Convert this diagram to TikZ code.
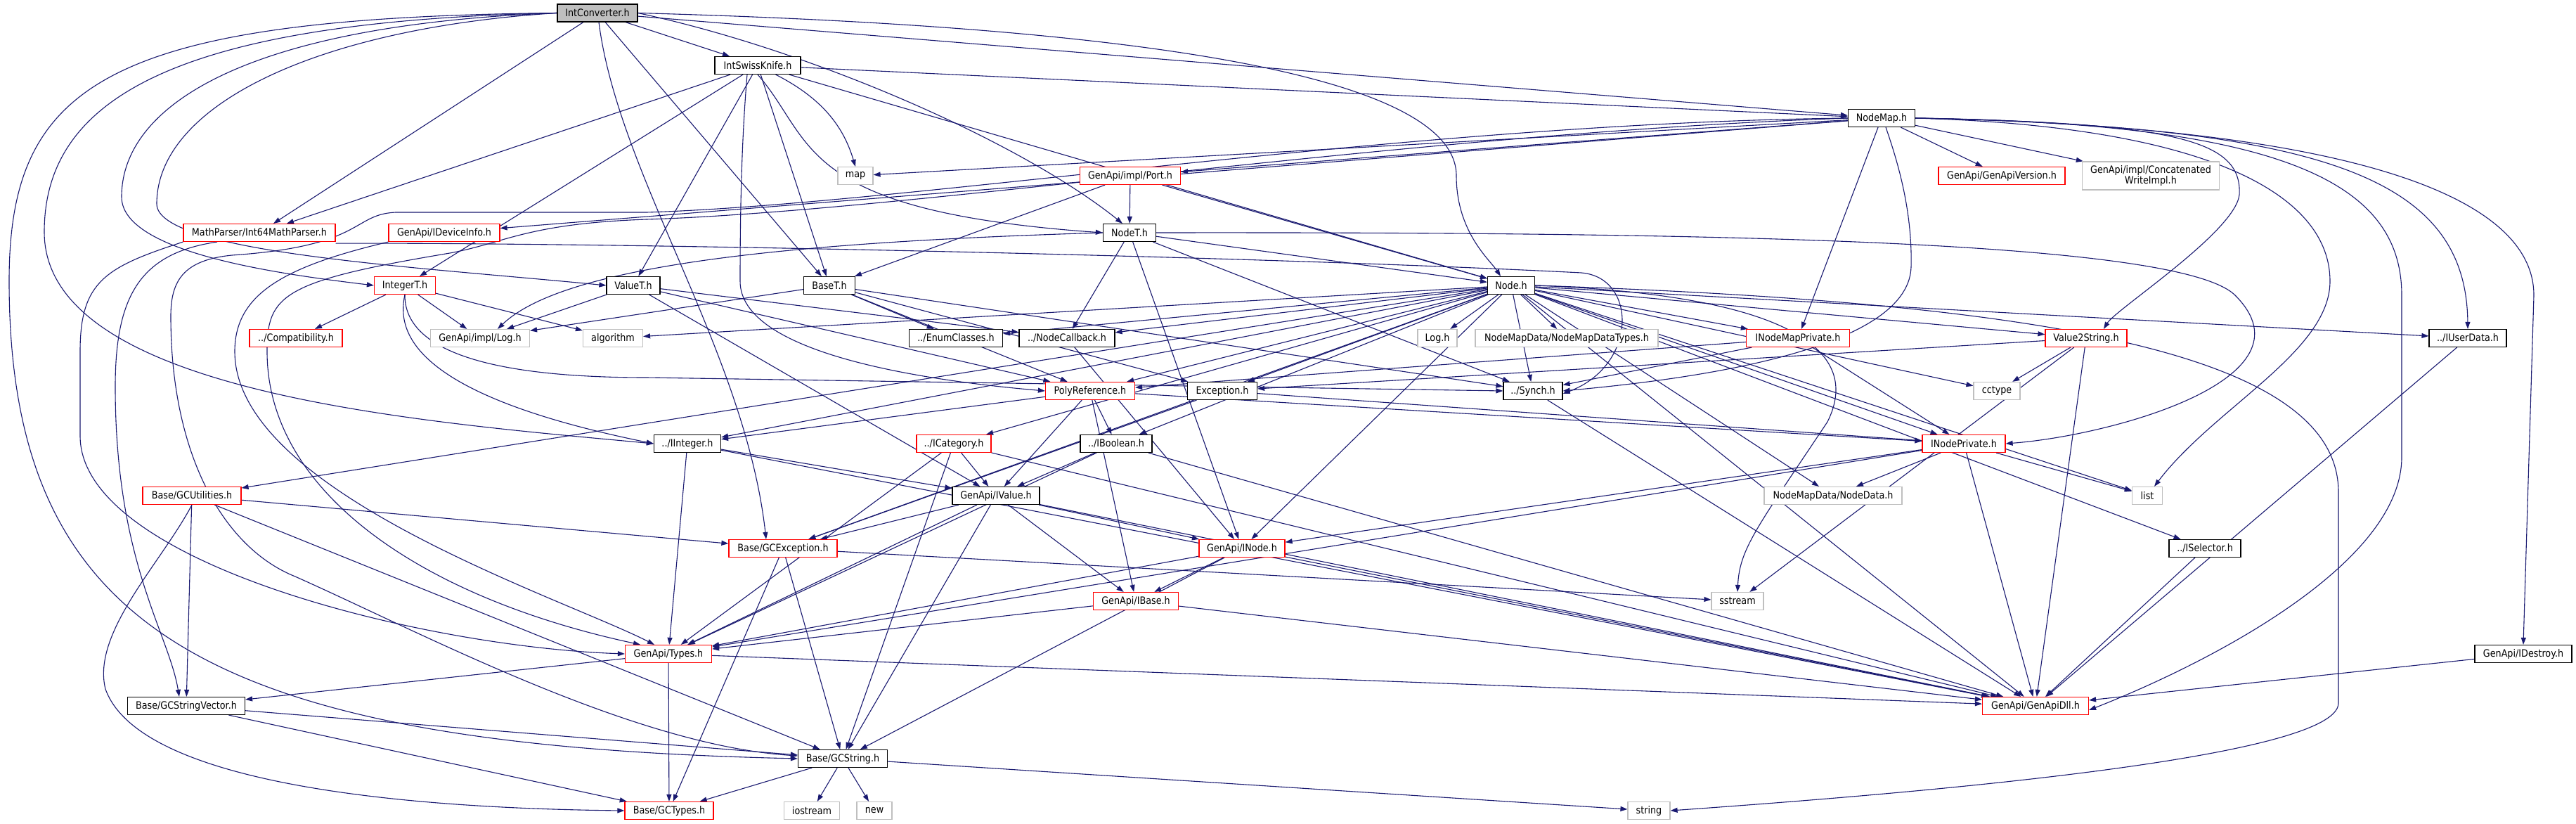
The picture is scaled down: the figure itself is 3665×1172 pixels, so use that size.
\documentclass[tikz,border=0pt]{standalone}
\usepackage{fontspec}
\setmainfont{DejaVu Sans}[FakeStretch=0.88]
\usetikzlibrary{arrows.meta}
\definecolor{edgec}{HTML}{191970}
\definecolor{grayb}{HTML}{BFBFBF}
\definecolor{redb}{HTML}{FF0000}
\pgfdeclarelayer{bg}
\pgfsetlayers{bg,main}
\begin{document}
\begin{tikzpicture}[x=1pt,y=-1pt,
 box/.style={draw, fill=white, line width=1.2pt, minimum height=25pt, inner sep=0pt, font=\fontsize{14.5}{15}\selectfont},
 nb/.style={box, draw=black},
 nr/.style={box, draw=redb},
 ng/.style={box, draw=grayb},
 e/.style={draw=edgec, line width=1.1pt, -{Triangle[length=10pt,width=7pt]}},
]
\useasboundingbox (0,0) rectangle (3665,1172);
% nodes
\node[nb, fill=grayb, minimum width=114pt] (ic) at (850,18.5) {IntConverter.h};
\node[nb, minimum width=122pt] (isk) at (1078,93) {IntSwissKnife.h};
\node[nb, minimum width=95pt] (nmap) at (2677,168) {NodeMap.h};
\node[nr, minimum width=216pt] (mp) at (369,331) {MathParser/Int64MathParser.h};
\node[nr, minimum width=158pt] (idi) at (632,331) {GenApi/IDeviceInfo.h};
\node[ng, minimum width=50pt] (map) at (1217,250) {map};
\node[nr, minimum width=143pt] (port) at (1608,250) {GenApi/impl/Port.h};
\node[nb, minimum width=75pt] (nodet) at (1607,331) {NodeT.h};
\node[nr, minimum width=180pt] (ver) at (2848,250) {GenApi/GenApiVersion.h};
\node[ng, minimum width=195pt, minimum height=40pt, align=center] (cwi) at (3060,250) {GenApi/impl/Concatenated\\WriteImpl.h};
\node[nr, minimum width=87pt] (intt) at (576,406) {IntegerT.h};
\node[nb, minimum width=76pt] (valt) at (901,406) {ValueT.h};
\node[nb, minimum width=73pt] (baset) at (1180,406) {BaseT.h};
\node[nb, minimum width=67pt] (node) at (2150,406) {Node.h};
\node[nr, minimum width=132pt] (compat) at (421,481) {../Compatibility.h};
\node[ng, minimum width=141pt] (log) at (683,481) {GenApi/impl/Log.h};
\node[ng, minimum width=85pt] (algo) at (872,481) {algorithm};
\node[nb, minimum width=133pt] (enumc) at (1360,481) {../EnumClasses.h};
\node[nb, minimum width=136pt] (ncb) at (1518,481) {../NodeCallback.h};
\node[ng, minimum width=56pt] (logh) at (2045,481) {Log.h};
\node[ng, minimum width=260pt] (nmdt) at (2229,481) {NodeMapData/NodeMapDataTypes.h};
\node[nr, minimum width=147pt] (inmp) at (2558,481) {INodeMapPrivate.h};
\node[nr, minimum width=116pt] (v2s) at (2968,481) {Value2String.h};
\node[nb, minimum width=110pt] (iud) at (3511,481) {../IUserData.h};
\node[nr, minimum width=127pt] (poly) at (1551,556) {PolyReference.h};
\node[nb, minimum width=99pt] (exc) at (1739,556) {Exception.h};
\node[nb, minimum width=84pt] (synch) at (2181,556) {../Synch.h};
\node[ng, minimum width=66pt] (cctype) at (2841,556) {cctype};
\node[nb, minimum width=95pt] (iint) at (978,631) {../IInteger.h};
\node[nr, minimum width=106pt] (icat) at (1357,631) {../ICategory.h};
\node[nb, minimum width=102pt] (ibool) at (1588,631) {../IBoolean.h};
\node[nr, minimum width=118pt] (inp) at (2794,631) {INodePrivate.h};
\node[nr, minimum width=140pt] (gcu) at (273,705) {Base/GCUtilities.h};
\node[nb, minimum width=124pt] (ival) at (1417,705) {GenApi/IValue.h};
\node[ng, minimum width=196pt] (nd) at (2608,705) {NodeMapData/NodeData.h};
\node[ng, minimum width=43pt] (list) at (3055,705) {list};
\node[nr, minimum width=154pt] (gce) at (1114,780) {Base/GCException.h};
\node[nr, minimum width=122pt] (inode) at (1767,780) {GenApi/INode.h};
\node[nb, minimum width=102pt] (isel) at (3137,780) {../ISelector.h};
\node[nr, minimum width=121pt] (ibase) at (1616,855) {GenApi/IBase.h};
\node[ng, minimum width=74pt] (sstream) at (2472,855) {sstream};
\node[nr, minimum width=123pt] (types) at (951,930) {GenApi/Types.h};
\node[nb, minimum width=138pt] (idestroy) at (3590,930) {GenApi/IDestroy.h};
\node[nb, minimum width=167pt] (gcsv) at (265,1004) {Base/GCStringVector.h};
\node[nr, minimum width=151pt] (dll) at (2896,1004) {GenApi/GenApiDll.h};
\node[nb, minimum width=127pt] (gcs) at (1199,1079) {Base/GCString.h};
\node[nr, minimum width=126pt] (gct) at (952,1153) {Base/GCTypes.h};
\node[ng, minimum width=79pt] (iostream) at (1155,1153) {iostream};
\node[ng, minimum width=50pt] (nnew) at (1244,1153) {new};
\node[ng, minimum width=60pt] (string) at (2346,1153) {string};

\begin{pgfonlayer}{bg}
\fill[white] (0,0) rectangle (3665,1172);
\foreach \a/\b in {ic/isk, ic/nmap, ic/mp, ic/baset,
 isk/nmap, isk/mp, isk/intt, isk/valt, isk/baset, isk/node,
 nmap/map, nmap/port, nmap/idi, nmap/ver, nmap/cwi, nmap/inmp,
 port/nodet, port/node, port/baset,
 nodet/ncb, nodet/synch, nodet/inode, nodet/node,
 intt/compat, intt/log, intt/algo,
 valt/log, valt/ncb, valt/ival, valt/poly,
 baset/enumc, baset/log, baset/poly, baset/exc, baset/synch,
 node/logh, node/nmdt, node/inmp, node/synch, node/algo, node/enumc, node/ncb, node/icat, node/ibool, node/poly, node/exc, node/gce, node/inode, node/gcu, node/v2s, node/cctype, node/nd, node/iud, node/dll, node/iint, node/inp, node/list, node/isel,
 inmp/synch, inmp/poly, inmp/inp,
 v2s/cctype, v2s/sstream, v2s/dll, v2s/exc,
 exc/gce, exc/inp,
 poly/iint, poly/ibool, poly/ival, poly/ibase, poly/inp,
 synch/dll,
 iint/ival, iint/types, iint/dll,
 icat/ival, icat/types, icat/gcs, icat/dll,
 ibool/ival, ibool/types, ibool/dll,
 ival/gce, ival/types, ival/gcs, ival/ibase, ival/inode, ival/dll,
 gce/gct, gce/gcs, gce/sstream,
 inode/ibase, inode/types, inode/gcs, inode/dll,
 ibase/types, ibase/dll,
 inp/list, inp/nd, inp/inode, inp/dll, inp/types,
 types/gcsv, types/gct, types/dll,
 gcsv/gcs, gcsv/gct,
 gcs/gct, gcs/iostream, gcs/nnew, gcs/string,
 gcu/gcsv, gcu/gcs, gcu/gce,
 iud/dll, isel/dll, idestroy/dll, ncb/inode}
 \draw[e] (\a) -- (\b);
% curved connectors
\draw[e] (ic.west) .. controls (150,25) and (13,120) .. (13,400) .. controls (13,900) and (300,1060) .. (gcs.west);
\draw[e] (ic.west) .. controls (250,30) and (63,140) .. (63,330) .. controls (63,560) and (600,600) .. (iint.west);
\draw[e] (ic.west) .. controls (350,35) and (173,150) .. (173,280) .. controls (173,360) and (400,390) .. (intt.west);
\draw[e] (ic.west) .. controls (450,40) and (223,150) .. (223,290) .. controls (223,360) and (600,380) .. (valt.west);
\draw[e] ([xshift=2pt]ic.south) .. controls (880,250) and (1060,500) .. ([xshift=-24pt]gce.north);
\draw[e] (ic.east) .. controls (1700,40) and (2072,120) .. (2072,250) .. controls (2072,330) and (2120,370) .. ([xshift=-15pt]node.north);
\draw[e] (ic.east) .. controls (1150,70) and (1450,200) .. ([xshift=-10pt]nodet.north);
\draw[e] (isk.south) .. controls (1160,200) and (1130,300) .. (nodet.west);
\draw[e] (isk) .. controls (1170,140) and (1200,180) .. (map.north);
\draw[e] ([xshift=-15pt]isk.south) .. controls (1055,200) and (1053,300) .. (1053,400) .. controls (1053,500) and (1300,540) .. (poly.west);
\draw[e] (mp.south west) .. controls (150,380) and (114,400) .. (114,500) -- (114,620) .. controls (114,800) and (600,920) .. (types.west);
\draw[e] ([xshift=-60pt]mp.south) .. controls (200,360) and (164,420) .. (164,550) .. controls (164,800) and (240,900) .. ([xshift=-10pt]gcsv.north);
\draw[e] ([yshift=-2pt]mp.south east) .. controls (900,345) and (1800,365) .. (2250,388) .. controls (2330,395) and (2330,520) .. ([yshift=-4pt]synch.east);
\draw[e] (idi.south west) .. controls (400,380) and (334,420) .. (334,500) .. controls (334,700) and (800,850) .. ([xshift=-20pt]types.north);
\draw[e] (nmap.west) .. controls (2000,175) and (1300,290) .. (920,302) -- (563,302) .. controls (500,305) and (520,350) .. (330,363) .. controls (260,370) and (243,400) .. (243,450) .. controls (243,650) and (320,780) .. (420,820) .. controls (600,900) and (900,1060) .. ([yshift=4pt]gcs.west);
\draw[e] (nmap.west) .. controls (2000,190) and (1300,300) .. (920,312) .. controls (750,318) and (720,345) .. (640,360) .. controls (400,400) and (380,420) .. (380,500) .. controls (380,700) and (600,850) .. ([xshift=-40pt]types.north);
\draw[e] (nmap.east) .. controls (3100,175) and (3190,200) .. (3186,277) .. controls (3180,330) and (3010,440) .. ([xshift=25pt]v2s.north);
\draw[e] (nmap.east) .. controls (3150,180) and (3315,280) .. (3315,400) .. controls (3315,500) and (3150,580) .. ([xshift=10pt]list.north);
\draw[e] (nmap.east) .. controls (3250,175) and (3417,260) .. (3417,420) -- (3417,650) .. controls (3417,800) and (3150,940) .. ([yshift=-6pt]dll.east);
\draw[e] (nmap.east) .. controls (3300,180) and (3509,250) .. (iud.north);
\draw[e] (nmap.east) .. controls (3350,180) and (3605,280) .. (3605,420) -- (idestroy.north);
\draw[e] ([xshift=6pt]nmap.south) .. controls (2700,230) and (2721,300) .. (2719,380) .. controls (2715,500) and (2400,540) .. (synch.east);
\draw[e] (nodet.east) .. controls (2400,330) and (3100,340) .. (3180,420) .. controls (3300,540) and (3000,620) .. (inp.east);
\draw[e] (nodet.west) .. controls (1100,345) and (800,380) .. ([xshift=25pt]log.north);
\draw[e] (node.east) .. controls (2900,430) and (3327,500) .. (3327,700) -- (3327,1000) .. controls (3327,1080) and (2700,1130) .. (string.east);
\draw[e] (node.east) .. controls (2550,420) and (2650,500) .. (2600,600) .. controls (2500,750) and (2475,780) .. (sstream.north);
\draw[e] (gcu.south) .. controls (230,800) and (130,900) .. (150,980) .. controls (200,1120) and (600,1150) .. (gct.west);
\draw[e] (intt.south) .. controls (565,470) and (580,560) .. (iint.west);
\draw[e] (intt.south) .. controls (575,500) and (700,537) .. (920,537) -- (synch.west);
\end{pgfonlayer}
\end{tikzpicture}
\end{document}
